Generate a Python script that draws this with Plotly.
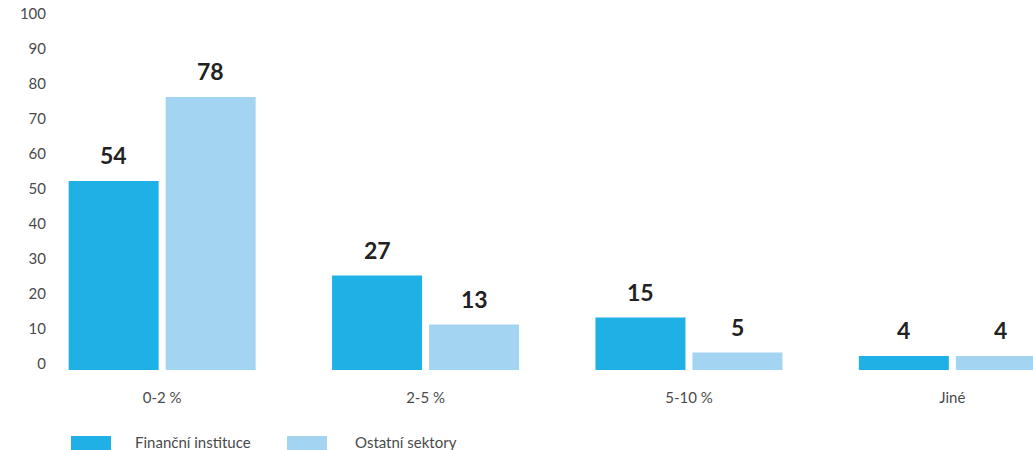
import plotly.graph_objects as go

# Data
categories = ["0-2 %", "2-5 %", "5-10 %", "Jiné"]
financni = [54, 27, 15, 4]
ostatni = [78, 13, 5, 4]
series_names = ["Finanční instituce", "Ostatní sektory"]
y_ticks = [0, 10, 20, 30, 40, 50, 60, 70, 80, 90, 100]

COL_DARK = "#1FB0E5"
COL_LIGHT = "#A3D4F2"
TEXT_GRAY = "#4a4a4a"
VALUE_COL = "#222222"

W, H = 1033, 450
ML, MR, MT, MB = 55, 0, 20, 80
plot_w = W - ML - MR
plot_h = H - MT - MB

# horizontal layout of the category axis (pixels per category)
px_per_cat = 263.4
first_center = 162.15
x_min = -(first_center - ML) / px_per_cat
x_max = (W - MR - first_center) / px_per_cat

bargap = 1 - 194 / px_per_cat
bargroupgap = 7 / 97

fig = go.Figure()
for name, vals, col in [(series_names[0], financni, COL_DARK),
                        (series_names[1], ostatni, COL_LIGHT)]:
    fig.add_trace(go.Bar(x=categories, y=vals, name=name, marker_color=col,
                         marker_line_width=0, showlegend=False))

# value labels above each bar
slot = px_per_cat * (1 - bargap) / 2
for shift, vals in [(-slot / 2, financni), (slot / 2, ostatni)]:
    for c, v in zip(categories, vals):
        fig.add_annotation(x=c, y=v, xref="x", yref="y", text=f"<b>{v}</b>",
                           showarrow=False, xshift=shift, yshift=10,
                           yanchor="bottom",
                           font=dict(family="Lato, sans-serif", size=23, color=VALUE_COL))

# custom legend with wide swatches
def px_x(px):
    return (px - ML) / plot_w

def px_y(py):
    return (H - MB - py) / plot_h

legend_items = [(series_names[0], COL_DARK, 71, 133), (series_names[1], COL_LIGHT, 287, 353)]
for name, col, sx, tx in legend_items:
    fig.add_shape(type="rect", xref="paper", yref="paper",
                  x0=px_x(sx), x1=px_x(sx + 40), y0=px_y(436), y1=px_y(452),
                  fillcolor=col, line_width=0)
    fig.add_annotation(xref="paper", yref="paper", x=px_x(tx), y=px_y(442),
                       text=name, showarrow=False, xanchor="left", yanchor="middle",
                       font=dict(family="Lato, sans-serif", size=15, color=TEXT_GRAY))

fig.update_layout(
    width=W, height=H,
    margin=dict(l=ML, r=MR, t=MT, b=MB),
    paper_bgcolor="white", plot_bgcolor="white",
    barmode="group", bargap=bargap, bargroupgap=bargroupgap,
    font=dict(family="Lato, sans-serif", color=TEXT_GRAY),
)
fig.update_xaxes(range=[x_min, x_max], showgrid=False, zeroline=False,
                 showline=False, ticks="", ticklabelstandoff=17,
                 tickfont=dict(size=15, color=TEXT_GRAY))
fig.update_yaxes(range=[0, 100], tickvals=y_ticks, showgrid=False, zeroline=False,
                 showline=False, ticks="", ticklabelshift=-6, ticklabelstandoff=8,
                 tickfont=dict(size=15, color=TEXT_GRAY))

fig.write_html("out.html")
